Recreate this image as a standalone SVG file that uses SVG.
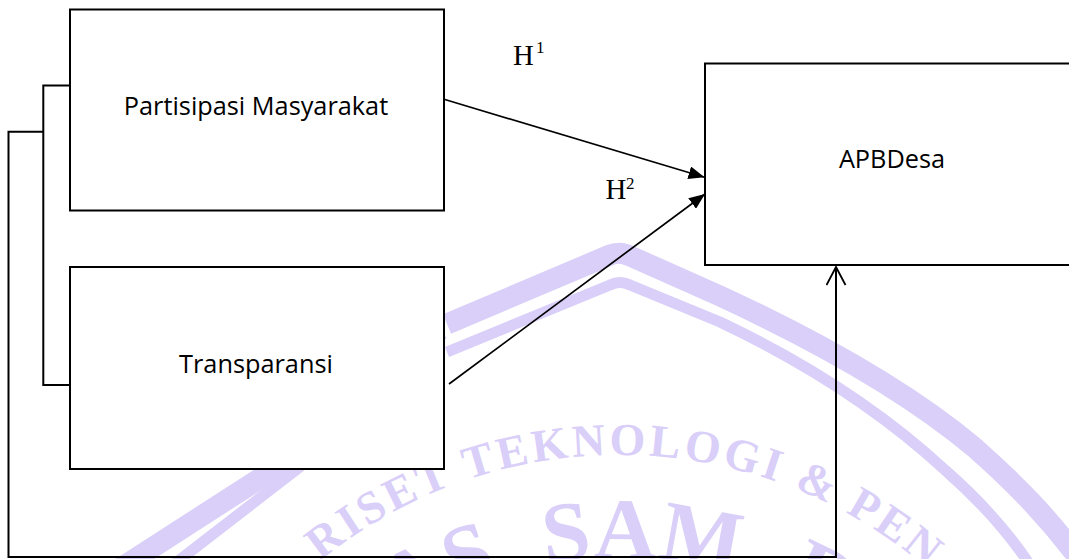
<svg xmlns="http://www.w3.org/2000/svg" width="1069" height="559" viewBox="0 0 1069 559">
  <defs>
    <style>
      .box { fill: #ffffff; stroke: #000000; stroke-width: 2; }
      .lbl { font-family: "Open Sans", "Liberation Sans", sans-serif; font-size: 25.3px; fill: #000000; text-anchor: middle; }
      .hyp { font-family: "Liberation Serif", "Times New Roman", serif; fill: #000000; }
      .hmain { font-size: 28.8px; }
      .hsup { font-size: 17px; }
      .line { fill: none; stroke: #000000; stroke-width: 2; }
      .arr { fill: none; stroke: #000000; stroke-width: 1.7; }
      .band { fill: none; stroke: #d9cff8; stroke-linejoin: round; }
      .wm { font-family: "Liberation Serif", "Times New Roman", serif; font-weight: bold; fill: #d9cff8; }
      .wm1 { font-size: 46px; letter-spacing: 3.5px; }
      .wm2 { font-size: 86px; letter-spacing: 1px; }
    </style>
    <marker id="arrowFilled" viewBox="0 0 16 13" refX="16" refY="6.5" markerWidth="16" markerHeight="13" markerUnits="userSpaceOnUse" orient="auto">
      <path d="M0,0 L16,6.5 L0,13 Z" fill="#000000"/>
    </marker>
    <marker id="arrowOpen" viewBox="-1 -1 21 21" refX="18" refY="9.5" markerWidth="21" markerHeight="21" markerUnits="userSpaceOnUse" orient="auto">
      <path d="M0,0 L18,9.5 L0,19" fill="none" stroke="#000000" stroke-width="1.8"/>
    </marker>
    <path id="arcTop" d="M 144 930 A 475 475 0 0 1 1094 930"/>
    <path id="arcBig" d="M 177 1000 A 442 442 0 0 1 1061 1000"/>
  </defs>

  <rect x="0" y="0" width="1069" height="559" fill="#ffffff"/>

  <g id="watermark">
    <path class="band" stroke-width="21" d="M 447 324 L 610 255 Q 620 251 630 256 L 720 296 C 800 333, 900 385, 975 448 C 1020 488, 1050 520, 1080 560"/>
    <path class="band" stroke-width="11" d="M 447 352 L 610 285 Q 620 280 630 285 L 720 322 C 800 360, 880 410, 945 470 C 985 505, 1010 535, 1030 565"/>
    <path class="band" stroke-width="21" d="M 440 330 L 276 468 L 110 575"/>
    <path class="band" stroke-width="11" d="M 440 356 L 296 470 L 160 575"/>
    <text class="wm wm1"><textPath href="#arcTop" startOffset="423">RISET TEKNOLOGI &amp; PEN</textPath></text>
    <text class="wm wm2"><textPath href="#arcBig" startOffset="462">AS <tspan dx="23.6">SAM</tspan> <tspan dx="25.4">R</tspan></textPath></text>
  </g>

  <g id="node-partisipasi">
    <rect class="box" x="70" y="9.5" width="374" height="201"/>
    <text class="lbl" x="256" y="115">Partisipasi Masyarakat</text>
  </g>

  <g id="node-transparansi">
    <rect class="box" x="70" y="267" width="374" height="202"/>
    <text class="lbl" x="256" y="373">Transparansi</text>
  </g>

  <g id="node-apbdesa">
    <rect class="box" x="705" y="63.5" width="400" height="201.5"/>
    <text class="lbl" x="892" y="168">APBDesa</text>
  </g>

  <g id="connectors">
    <path class="line" d="M 70 85.5 H 43.3 V 385 H 70"/>
    <path class="line" d="M 43.3 131.7 H 8.5 V 557 H 836 V 267" marker-end="url(#arrowOpen)"/>
    <line class="arr" x1="444" y1="99.3" x2="704.5" y2="177.3" marker-end="url(#arrowFilled)"/>
    <line class="arr" x1="449" y1="384" x2="705" y2="194" marker-end="url(#arrowFilled)"/>
  </g>

  <g id="labels">
    <text class="hyp hmain" x="513" y="65">H</text>
    <text class="hyp hsup" x="536" y="52.7">1</text>
    <text class="hyp hmain" x="605.5" y="199.3">H</text>
    <text class="hyp hsup" x="626" y="189.3">2</text>
  </g>
</svg>
